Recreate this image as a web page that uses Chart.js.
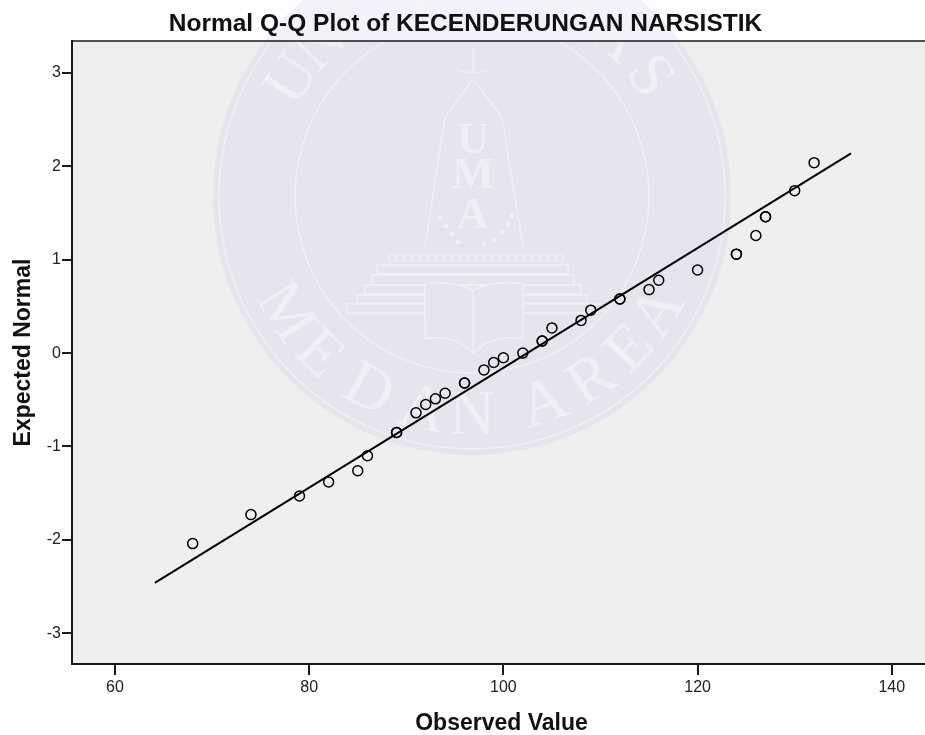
<!DOCTYPE html>
<html>
<head>
<meta charset="utf-8">
<title>Normal Q-Q Plot</title>
<script src="https://cdn.jsdelivr.net/npm/chart.js@4"></script>
<style>
    html, body { margin: 0; padding: 0; background: #fff; overflow: hidden; }
    #wrap { width: 925px; height: 735px; overflow: hidden; }
    #inner { width: 931px; height: 735px; }
    canvas { display: block; }
</style>
</head>
<body>
<div id="wrap"><div id="inner"><canvas id="qq" width="931" height="735"></canvas></div></div>
<script>
const chartTitle = 'Normal Q-Q Plot of KECENDERUNGAN NARSISTIK';
const xLabel = 'Observed Value';
const yLabel = 'Expected Normal';

// tied scores are listed twice, they print darker in the original
const observed = [68, 74, 79, 82, 85, 86, 89, 89, 91, 92, 93, 94, 96, 96, 98, 99, 100, 102, 104, 104, 105, 108, 109, 112, 112, 115, 116, 120, 124, 124, 126, 127, 127, 130, 132];
const expected = [-2.04, -1.73, -1.53, -1.38, -1.26, -1.10, -0.85, -0.85, -0.64, -0.55, -0.49, -0.43, -0.32, -0.32, -0.18, -0.10, -0.05, 0.00, 0.13, 0.13, 0.27, 0.35, 0.46, 0.58, 0.58, 0.68, 0.78, 0.89, 1.06, 1.06, 1.26, 1.46, 1.46, 1.74, 2.04];

const lineX = [64.1, 135.8];
const lineY = [-2.46, 2.14];

const xTicks = [60, 80, 100, 120, 140];
const yTicks = [-3, -2, -1, 0, 1, 2, 3];

const ink = '#1a1a1a';
const labelFont = '"Liberation Sans", Arial, sans-serif';

// University seal behind the plot, it is only a watermark
function arcLetters(ctx, letters, angles, radius, cx, cy, top) {
    letters.forEach((ch, i) => {
        const a = angles[i] * Math.PI / 180;
        ctx.save();
        if (top) {
            ctx.translate(cx + radius * Math.sin(a), cy - radius * Math.cos(a));
            ctx.rotate(a);
        } else {
            ctx.translate(cx + radius * Math.sin(a), cy + radius * Math.cos(a));
            ctx.rotate(-a);
        }
        ctx.fillText(ch, 0, 0);
        ctx.restore();
    });
}

function drawSeal(ctx) {
    const cx = 472, cy = 196;
    const pale = 'rgba(244,244,246,0.7)';

    ctx.save();
    ctx.fillStyle = 'rgba(190,190,235,0.2)';
    ctx.beginPath();
    ctx.arc(cx, cy, 259, 0, Math.PI * 2);
    ctx.fill();

    ctx.strokeStyle = pale;
    ctx.lineWidth = 1.5;
    [253, 177].forEach(r => {
        ctx.beginPath();
        ctx.arc(cx, cy, r, 0, Math.PI * 2);
        ctx.stroke();
    });

    ctx.fillStyle = pale;
    ctx.textAlign = 'center';
    ctx.textBaseline = 'alphabetic';
    ctx.font = '64px "Liberation Serif", serif';
    arcLetters(ctx, 'UNIVERSITAS'.split(''), [-57, -45, -34, -25, -14, -2, 10, 21, 30, 42, 56], 196, cx, cy, true);
    arcLetters(ctx, 'MEDANAREA'.split(''), [-58, -44, -28, -13, 0, 19, 33, 46, 58], 238, cx, cy, false);

    // monument
    ctx.lineWidth = 1.5;
    ctx.beginPath();
    ctx.moveTo(425, 247);
    ctx.lineTo(445, 117);
    ctx.lineTo(473, 79);
    ctx.lineTo(502, 117);
    ctx.lineTo(523, 247);
    ctx.stroke();

    ctx.font = 'bold 44px "Liberation Serif", serif';
    ctx.fillText('U', 473, 153);
    ctx.fillText('M', 473, 188);
    ctx.fillText('A', 473, 228);

    // wreath and chain
    for (let i = 0; i < 22; i++) {
        ctx.beginPath();
        ctx.arc(392 + i * 8, 258, 3.5, 0, Math.PI * 2);
        ctx.stroke();
    }
    [[440, 218], [446, 226], [452, 234], [458, 242], [484, 244], [494, 240], [502, 232], [508, 224], [512, 216]].forEach(p => {
        ctx.beginPath();
        ctx.arc(p[0], p[1], 2.5, 0, Math.PI * 2);
        ctx.fill();
    });

    // steps
    [[377, 265, 191, 9], [372, 275, 202, 10], [365, 285, 216, 9], [357, 295, 230, 8], [347, 304, 250, 9]].forEach(s => {
        ctx.strokeRect(s[0], s[1], s[2], s[3]);
    });

    // book
    ctx.fillStyle = 'rgb(229,229,238)';
    ctx.beginPath();
    ctx.moveTo(425, 284);
    ctx.quadraticCurveTo(450, 280, 473, 290);
    ctx.quadraticCurveTo(496, 280, 523, 284);
    ctx.lineTo(523, 338);
    ctx.quadraticCurveTo(490, 335, 473, 353);
    ctx.quadraticCurveTo(456, 335, 425, 338);
    ctx.closePath();
    ctx.fill();
    ctx.stroke();
    ctx.beginPath();
    ctx.moveTo(473, 290);
    ctx.lineTo(473, 353);
    ctx.stroke();

    // bird on top
    ctx.beginPath();
    ctx.moveTo(473, 48);
    ctx.lineTo(473, 72);
    ctx.moveTo(458, 70);
    ctx.quadraticCurveTo(473, 76, 488, 70);
    ctx.stroke();
    ctx.restore();
}

const plotBack = {
    id: 'plotBack',
    beforeDraw(chart) {
        const { ctx, chartArea: a } = chart;
        ctx.save();
        ctx.fillStyle = '#efefef';
        ctx.fillRect(a.left, a.top, a.right - a.left, a.bottom - a.top);
        ctx.restore();
        drawSeal(ctx);
    },
    afterDatasetsDraw(chart) {
        const { ctx, chartArea: a } = chart;
        ctx.save();
        ctx.strokeStyle = ink;
        ctx.lineWidth = 1.5;
        ctx.beginPath();
        ctx.moveTo(a.left, a.top);
        ctx.lineTo(a.right, a.top);
        ctx.stroke();
        ctx.restore();
    }
};

new Chart(document.getElementById('qq'), {
    type: 'scatter',
    data: {
        datasets: [{
            label: 'Fit',
            data: lineX.map((x, i) => ({ x: x, y: lineY[i] })),
            showLine: true,
            borderColor: '#000',
            borderWidth: 2,
            pointRadius: 0,
            order: 2
        }, {
            label: 'Scores',
            data: observed.map((x, i) => ({ x: x, y: expected[i] })),
            showLine: false,
            pointRadius: 5,
            pointBorderWidth: 1.5,
            pointBorderColor: '#000',
            pointBackgroundColor: 'rgba(0,0,0,0)',
            order: 1
        }]
    },
    options: {
        responsive: false,
        maintainAspectRatio: false,
        animation: false,
        layout: { padding: 0, autoPadding: false },
        plugins: {
            legend: { display: false },
            tooltip: { enabled: false },
            title: {
                display: true,
                text: chartTitle,
                color: '#111',
                font: { family: labelFont, size: 24.5, weight: 'bold', lineHeight: 1.2 },
                padding: { top: 9.3, bottom: 2.3 }
            }
        },
        scales: {
            x: {
                type: 'linear',
                min: 55.57,
                max: 144.04,
                afterFit: s => { s.height = 71; s.paddingLeft = 0; s.paddingRight = 0; },
                afterBuildTicks: s => { s.ticks = xTicks.map(v => ({ value: v })); },
                border: { color: ink, width: 2 },
                grid: { drawOnChartArea: false, drawTicks: true, tickLength: 11, color: ink, lineWidth: 2 },
                ticks: { color: '#222', font: { family: labelFont, size: 16 }, padding: 3, maxRotation: 0 },
                title: { display: true, text: xLabel, color: '#111', font: { family: labelFont, size: 23, weight: 'bold' }, padding: { top: 10, bottom: -2 } }
            },
            y: {
                type: 'linear',
                min: -3.33,
                max: 3.343,
                afterFit: s => { s.width = 72; s.paddingTop = 0; s.paddingBottom = 0; },
                afterBuildTicks: s => { s.ticks = yTicks.map(v => ({ value: v })); },
                border: { color: ink, width: 2 },
                grid: { drawOnChartArea: false, drawTicks: true, tickLength: 10, color: ink, lineWidth: 2 },
                ticks: { color: '#222', font: { family: labelFont, size: 16 }, padding: 1 },
                title: { display: true, text: yLabel, color: '#111', font: { family: labelFont, size: 23, weight: 'bold' }, padding: { top: 10, bottom: 0 } }
            }
        }
    },
    plugins: [plotBack]
});
</script>
</body>
</html>
